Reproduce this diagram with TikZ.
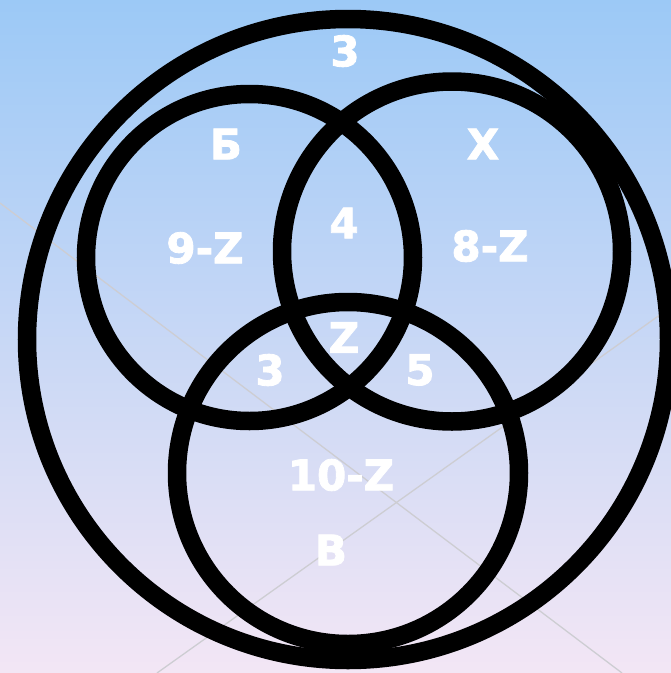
\documentclass[tikz,border=0pt]{standalone}
\usepackage{fontspec}
\setmainfont{DejaVu Sans}
\newfontfamily\lblfont[FakeBold=2.0]{DejaVu Sans Bold}
\definecolor{bgtop}{RGB}{156,201,246}
\definecolor{bgbot}{RGB}{243,230,245}
\definecolor{faint}{RGB}{205,205,210}
\begin{document}
\begin{tikzpicture}[x=1pt,y=-1pt,
  ring/.style={draw=black,line width=18.5pt},
  lbl/.style={text=white,font=\lblfont\fontsize{42}{44}\selectfont,inner sep=0pt,anchor=center},
  guide/.style={draw=faint,line width=1.3pt}]
\shade[top color=bgtop,bottom color=bgbot] (0,0) rectangle (671,673);
\useasboundingbox (0,0) rectangle (671,673);
\coordinate (g1a) at (0,203);
\coordinate (g1b) at (622,673);
\coordinate (g2a) at (671,307);
\coordinate (g2b) at (157,673);
\draw[guide] (g1a) -- (g1b);
\draw[guide] (g2a) -- (g2b);
% circles
\draw[ring] (348,339.5) circle[x radius=321,y radius=320.5];
\draw[ring] (249.5,257.5) circle[radius=163.5];
\draw[ring] (452,251.5) circle[radius=170];
\draw[ring] (348,473) circle[radius=171];
% labels
\node[lbl] (none) at (345,51) {3};
\node[lbl] (b) at (226,144) {Б};
\node[lbl] (x) at (483,144) {Х};
\node[lbl] (bonly) at (205,248) {9-Z};
\node[lbl] (bx) at (344,223) {4};
\node[lbl] (xonly) at (490,246) {8-Z};
\node[lbl] (bxv) at (344,337.5) {Z};
\node[lbl] (bv) at (270,370) {3};
\node[lbl] (xv) at (420,370) {5};
\node[lbl] (vonly) at (341,475) {10-Z};
\node[lbl] (v) at (331,550) {В};
\end{tikzpicture}
\end{document}
